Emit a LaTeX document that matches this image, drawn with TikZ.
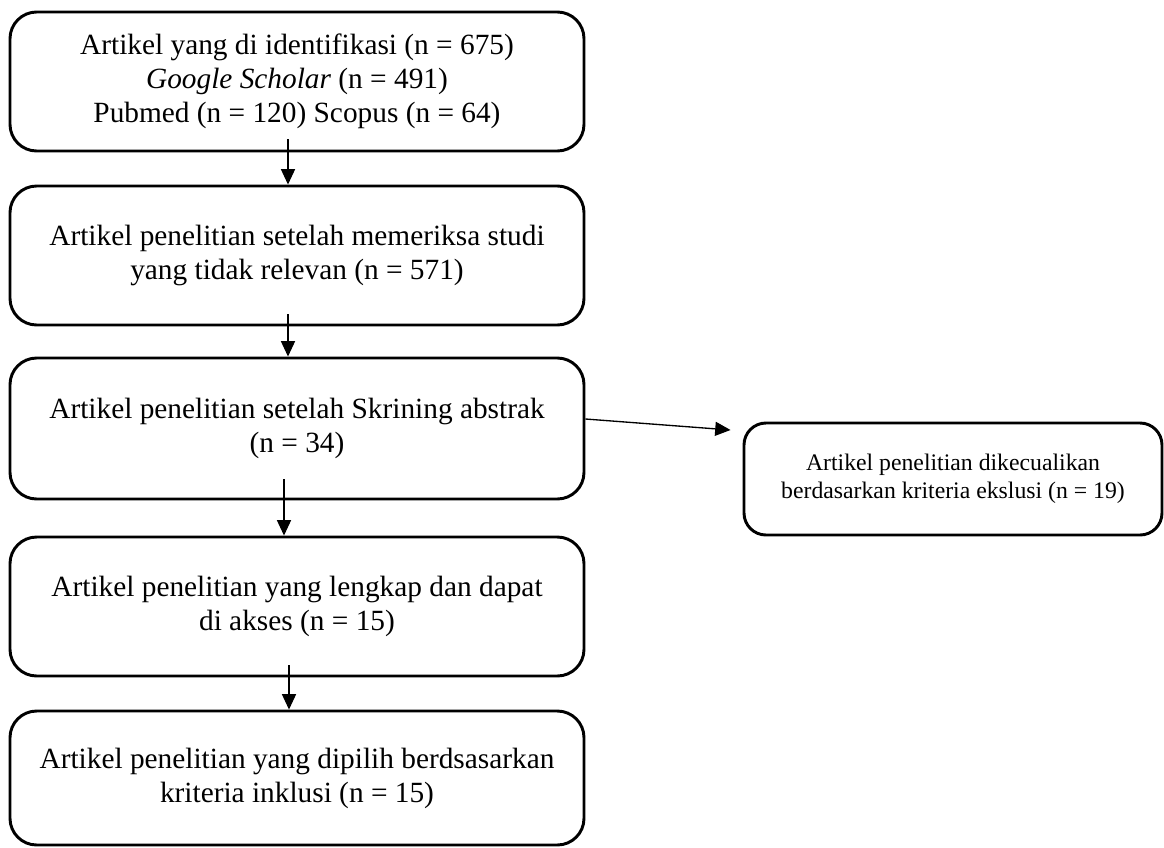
\documentclass[tikz,border=0pt]{standalone}
\usepackage{fontspec}
\setmainfont{Liberation Serif}
\usetikzlibrary{arrows.meta, positioning}

\begin{document}
\begin{tikzpicture}[x=0.75pt, y=-0.75pt,
    stage/.style={draw, line width=2.2pt, rounded corners=20pt, align=center,
        minimum width=430.5pt, inner sep=0pt, font=\fontsize{22}{25.5}\selectfont},
    exclbox/.style={draw, line width=2.2pt, rounded corners=16.5pt, align=center,
        minimum width=313.5pt, minimum height=84pt, inner sep=0pt,
        font=\fontsize{17.8}{21}\selectfont},
    flow/.style={-{Triangle[length=11.5pt, width=10.5pt]}, line width=1pt}]

    \useasboundingbox (0,0) rectangle (1164,847);

    % Identification
    \node[stage, minimum height=104.25pt] (ident) at (297,81.5)
        {Artikel yang di identifikasi (n = 675)\\
         \textit{Google Scholar} (n = 491)\\
         Pubmed (n = 120) Scopus (n = 64)};

    % Relevance check
    \node[stage, minimum height=104.25pt] (relev) at (297,255.5)
        {Artikel penelitian setelah memeriksa studi\\ yang tidak relevan (n = 571)};

    % Abstract screening
    \node[stage, minimum height=105.75pt] (screen) at (297,428.5)
        {Artikel penelitian setelah Skrining abstrak\\ (n = 34)};

    % Full text
    \node[stage, minimum height=104.25pt] (full) at (297,606.5)
        {Artikel penelitian yang lengkap dan dapat\\ di akses (n = 15)};

    % Included
    \node[stage, minimum height=100.5pt] (incl) at (297,778)
        {Artikel penelitian yang dipilih berdsasarkan\\ kriteria inklusi (n = 15)};

    % Excluded
    \node[exclbox] (excl) at (953,479)
        {Artikel penelitian dikecualikan\\ berdasarkan kriteria ekslusi (n = 19)};

    % Arrows
    \draw[flow] ([shift={(-9,-13)}]ident.south) -- ([shift={(-9,0)}]relev.north);
    \draw[flow] ([shift={(-9,-12)}]relev.south) -- ([shift={(-9,0)}]screen.north);
    \draw[flow] ([shift={(-13,-21)}]screen.south) -- ([shift={(-13,0)}]full.north);
    \draw[flow] ([shift={(-8,-12)}]full.south) -- ([shift={(-8,0)}]incl.north);
    \draw[flow] ([shift={(0,-9.5)}]screen.east) -- ([shift={(-12,-49)}]excl.west);

\end{tikzpicture}
\end{document}
